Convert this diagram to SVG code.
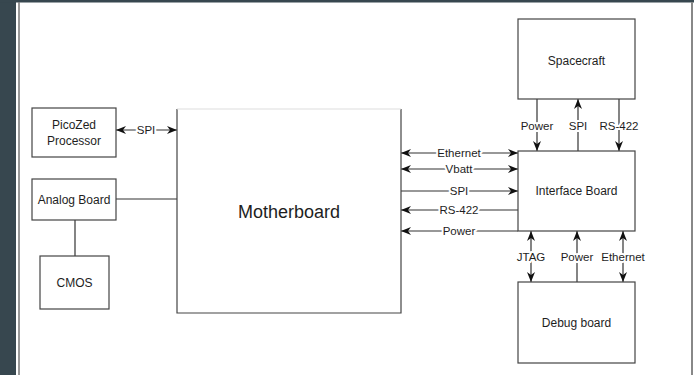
<svg xmlns="http://www.w3.org/2000/svg" width="694" height="375" viewBox="0 0 694 375">
<defs>
<marker id="arr" viewBox="0 0 10 10" refX="10" refY="5" markerWidth="10" markerHeight="10" orient="auto-start-reverse" markerUnits="userSpaceOnUse">
<path d="M0,1 L10,5 L0,9 L3,5 z" fill="#111"/>
</marker>
</defs>
<style>
.box{fill:#fff;stroke:#444;stroke-width:1.2}
.node{font-family:"Liberation Sans",Arial,sans-serif;font-size:12px;fill:#1e1e1e;text-anchor:middle}
.big{font-size:18px}
.lbl{font-family:"Liberation Sans",Arial,sans-serif;font-size:11.5px;fill:#1e1e1e;text-anchor:middle;stroke:#fff;stroke-width:4;paint-order:stroke;stroke-linejoin:round}
.ln{stroke:#333;stroke-width:1.2;fill:none}
</style>
<rect x="0" y="0" width="694" height="375" fill="#fff"/>
<rect x="0" y="0" width="16" height="375" fill="#37474f"/>
<rect x="0" y="0" width="694" height="2.5" fill="#37474f"/>
<line x1="19" y1="2" x2="19" y2="375" stroke="#777" stroke-width="1.5"/>
<line x1="692" y1="2" x2="692" y2="375" stroke="#888" stroke-width="2"/>

<g id="connectors">
<line class="ln" x1="116" y1="130" x2="177" y2="130" marker-start="url(#arr)" marker-end="url(#arr)"/>
<line class="ln" x1="116" y1="199" x2="177" y2="199"/>
<line class="ln" x1="75" y1="220" x2="75" y2="256"/>
<line class="ln" x1="401" y1="153" x2="518" y2="153" marker-start="url(#arr)" marker-end="url(#arr)"/>
<line class="ln" x1="401" y1="169" x2="518" y2="169" marker-start="url(#arr)" marker-end="url(#arr)"/>
<line class="ln" x1="401" y1="191" x2="518" y2="191" marker-end="url(#arr)"/>
<line class="ln" x1="518" y1="210" x2="401" y2="210" marker-end="url(#arr)"/>
<line class="ln" x1="518" y1="231" x2="401" y2="231" marker-end="url(#arr)"/>
<line class="ln" x1="537" y1="99" x2="537" y2="151" marker-end="url(#arr)"/>
<line class="ln" x1="578" y1="151" x2="578" y2="99" marker-end="url(#arr)"/>
<line class="ln" x1="619" y1="99" x2="619" y2="151" marker-end="url(#arr)"/>
<line class="ln" x1="531" y1="231" x2="531" y2="282" marker-start="url(#arr)" marker-end="url(#arr)"/>
<line class="ln" x1="577" y1="282" x2="577" y2="231" marker-end="url(#arr)"/>
<line class="ln" x1="623" y1="231" x2="623" y2="282" marker-start="url(#arr)" marker-end="url(#arr)"/>
<text class="lbl" x="146" y="134">SPI</text>
<text class="lbl" x="459" y="157">Ethernet</text>
<text class="lbl" x="459" y="173">Vbatt</text>
<text class="lbl" x="459" y="195">SPI</text>
<text class="lbl" x="459" y="214">RS-422</text>
<text class="lbl" x="459" y="235">Power</text>
<text class="lbl" x="537" y="130">Power</text>
<text class="lbl" x="578" y="130">SPI</text>
<text class="lbl" x="619" y="130">RS-422</text>
<text class="lbl" x="531" y="261">JTAG</text>
<text class="lbl" x="577" y="261">Power</text>
<text class="lbl" x="623" y="261">Ethernet</text>
</g>

<g id="picozed">
<rect class="box" x="32" y="108" width="84" height="49"/>
<text class="node" x="74" y="129">PicoZed</text>
<text class="node" x="74" y="145">Processor</text>
</g>
<g id="analog">
<rect class="box" x="32" y="179" width="84" height="41"/>
<text class="node" x="74" y="204">Analog Board</text>
</g>
<g id="cmos">
<rect class="box" x="40" y="256" width="69" height="53"/>
<text class="node" x="74.5" y="287">CMOS</text>
</g>
<g id="motherboard">
<path d="M177,109 V313 H401 V109" fill="#fff" stroke="#444" stroke-width="1.2"/>
<line x1="177" y1="109" x2="401" y2="109" stroke="#ddd" stroke-width="1"/>
<text class="node big" x="289" y="218">Motherboard</text>
</g>
<g id="spacecraft">
<rect class="box" x="518" y="19" width="117" height="80"/>
<text class="node" x="576.5" y="65">Spacecraft</text>
</g>
<g id="interface">
<rect class="box" x="518" y="151" width="117" height="80"/>
<text class="node" x="576.5" y="195">Interface Board</text>
</g>
<g id="debug">
<rect class="box" x="518" y="282" width="117" height="81"/>
<text class="node" x="576.5" y="327">Debug board</text>
</g>
</svg>
